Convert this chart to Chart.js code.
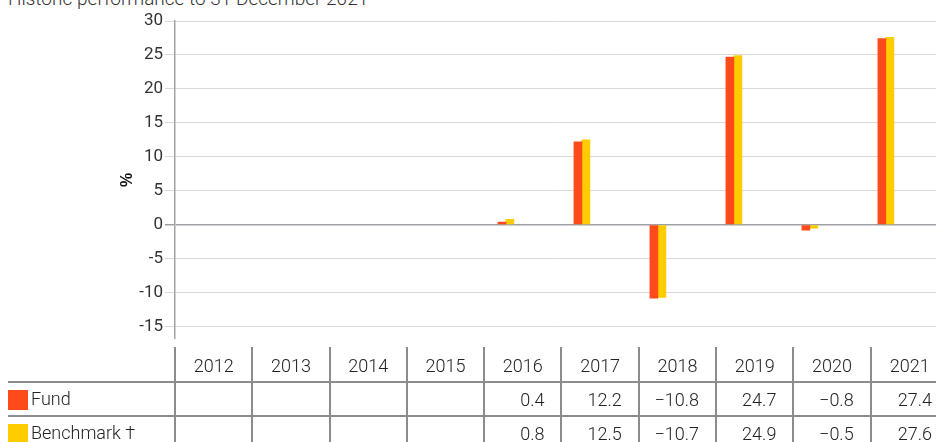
<!DOCTYPE html>
<html>
<head>
<meta charset="utf-8">
<script src="https://cdn.jsdelivr.net/npm/chart.js@4.4.1/dist/chart.umd.min.js"></script>
<style>
  html, body { margin: 0; padding: 0; background: #fff; overflow: hidden; }
  body { width: 936px; height: 442px; position: relative; font-family: Roboto, "Liberation Sans", sans-serif; font-weight: 300; color: #222; }
  #title { position: absolute; left: 8px; top: -11px; font-size: 19px; line-height: 20px; white-space: nowrap; color: #333; }
  #chartBox { position: absolute; left: 0; top: 0; width: 936px; height: 351px; }
  #perfTable { position: absolute; left: 8px; top: 347px; border-collapse: collapse; table-layout: fixed; width: 940px; font-size: 18px; }
  #perfTable td { height: 32px; padding: 0; border-left: 2px solid #8c8c8c; white-space: nowrap; }
  #perfTable col.lbl { width: 167px; }
  #perfTable col.yr { width: 77.3px; }
  #perfTable td.lbl { border-left: none; }
  #perfTable td.yr { text-align: center; padding-top: 2px; }
  #perfTable td.val { text-align: right; padding-right: 16px; }
  #perfTable tr.data td { border-top: 2px solid #8c8c8c; }
  .sw { display: inline-block; width: 20px; height: 20px; vertical-align: -5px; margin-right: 3px; }
</style>
</head>
<body>
<div id="title">Historic performance to 31 December 2021</div>
<div id="chartBox"><canvas id="barChart"></canvas></div>
<table id="perfTable"></table>
<script>
// discrete annual performance, %
const years = [2012, 2013, 2014, 2015, 2016, 2017, 2018, 2019, 2020, 2021];
const fundReturns = [null, null, null, null, 0.4, 12.2, -10.8, 24.7, -0.8, 27.4];
const benchmarkReturns = [null, null, null, null, 0.8, 12.5, -10.7, 24.9, -0.5, 27.6];
const yTicks = [-15, -10, -5, 0, 5, 10, 15, 20, 25, 30];

const fundColour = '#ff4b1c';
const benchColour = '#ffcc00';

// table under the chart
const table = document.getElementById('perfTable');
const fmt = v => v === null ? '' : v.toFixed(1).replace('-', '\u2212');
let html = '<colgroup><col class="lbl">' + years.map(() => '<col class="yr">').join('') + '</colgroup>';
html += '<tr><td class="lbl"></td>' + years.map(y => `<td class="yr">${y}</td>`).join('') + '</tr>';
html += `<tr class="data"><td class="lbl"><span class="sw" style="background:${fundColour}"></span>Fund</td>` +
  fundReturns.map(v => `<td class="val">${fmt(v)}</td>`).join('') + '</tr>';
html += `<tr class="data"><td class="lbl"><span class="sw" style="background:${benchColour}"></span>Benchmark \u2020</td>` +
  benchmarkReturns.map(v => `<td class="val">${fmt(v)}</td>`).join('') + '</tr>';
table.innerHTML = html;

const toPoints = arr => years.map((yr, i) => ({ x: yr, y: arr[i] }));

new Chart(document.getElementById('barChart'), {
  type: 'bar',
  data: {
    datasets: [
      { label: 'Fund', data: toPoints(fundReturns), backgroundColor: fundColour, barThickness: 8 },
      { label: 'Benchmark \u2020', data: toPoints(benchmarkReturns), backgroundColor: benchColour, barThickness: 8 }
    ]
  },
  options: {
    responsive: true,
    maintainAspectRatio: false,
    animation: false,
    layout: { padding: { top: 21, bottom: 10, left: 0, right: 0 } },
    plugins: { legend: { display: false }, tooltip: { enabled: false } },
    scales: {
      x: {
        type: 'linear',
        display: false,
        offset: false,
        min: 2011.645,
        max: 2021.66
      },
      y: {
        min: -16.8,
        max: 30,
        afterBuildTicks: scale => { scale.ticks = yTicks.map(v => ({ value: v })); },
        afterFit: scale => { scale.width = 175; },
        border: { color: '#a3a3a3', width: 1.5 },
        grid: {
          color: ctx => ctx.tick && ctx.tick.value === 0 ? '#9da1a5' : '#d9d9d9',
          lineWidth: ctx => ctx.tick && ctx.tick.value === 0 ? 1.5 : 1,
          tickLength: 10
        },
        ticks: {
          color: '#333',
          padding: 2,
          font: { family: 'Roboto, "Liberation Sans", sans-serif', size: 17 }
        },
        title: {
          display: true,
          text: '%',
          color: '#111',
          padding: { top: 118, bottom: 0 },
          font: { family: '"Liberation Sans", sans-serif', size: 16, weight: 'bold' }
        }
      }
    }
  }
});
</script>
</body>
</html>
